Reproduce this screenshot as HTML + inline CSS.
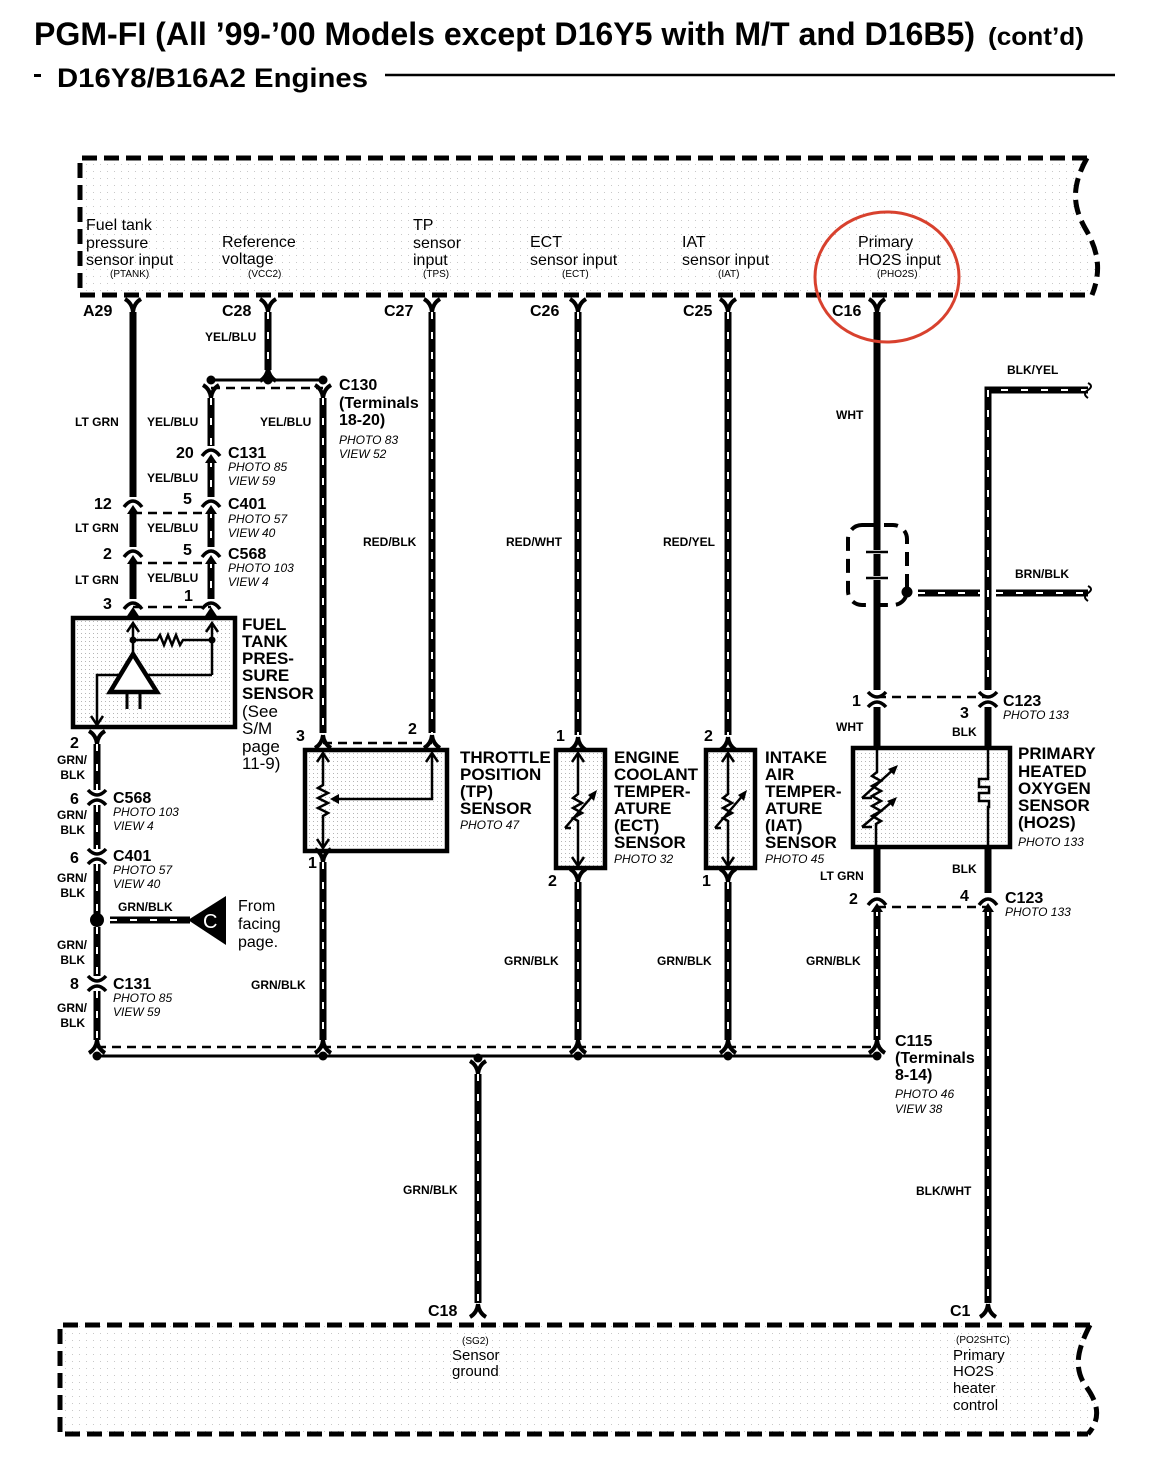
<!DOCTYPE html>
<html><head><meta charset="utf-8"><style>
html,body{margin:0;padding:0;background:#fff}
svg{display:block}
text{font-family:"Liberation Sans",Arial,sans-serif;fill:#000}
.t16{font-size:16px}
.t15{font-size:15px}
.sm{font-size:10px}
.b16{font-size:16px;font-weight:bold}
.b12{font-size:12px;font-weight:bold}
.i12{font-size:12px;font-style:italic}
.b17{font-size:17px;font-weight:bold}
.r17{font-size:17px}
.w{stroke:#000;stroke-width:7;fill:none}
.s{stroke:#fff;stroke-width:2;stroke-dasharray:7 13;fill:none}
.d{stroke:#000;stroke-width:2.5;stroke-dasharray:9 6;fill:none}
.box{stroke:#000;stroke-width:5;stroke-dasharray:15 7;fill:none}
.sb{stroke:#000;stroke-width:4.5;fill:url(#dots2)}
.ln{stroke:#000;stroke-width:2.5;fill:none}
</style></head><body>
<svg width="1156" height="1472" viewBox="0 0 1156 1472" xmlns="http://www.w3.org/2000/svg">
<defs>
<pattern id="dots" width="7" height="7" patternUnits="userSpaceOnUse"><rect x="2" y="3" width="1" height="1" fill="#c8c8c8"/></pattern>
<pattern id="dots2" width="4" height="4" patternUnits="userSpaceOnUse"><rect width="4" height="4" fill="#fff"/><rect x="1" y="1" width="1" height="1" fill="#b5b5b5"/></pattern>
<g id="fk"><path d="M-8,-9 Q-1,-5 0,4 M8,-9 Q1,-5 0,4" stroke="#000" stroke-width="4" fill="none"/></g>
<g id="ifk"><path d="M-8,9 Q-1,5 0,-4 M8,9 Q1,5 0,-4" stroke="#000" stroke-width="4" fill="none"/></g>
<g id="cn"><path d="M-9,6 Q0,-6 9,6" stroke="#000" stroke-width="3.5" fill="none"/><path d="M-6,13 L0,4 L6,13 Z" fill="#000"/></g>
<g id="cd"><path d="M-9,-7 Q0,3 9,-7" stroke="#000" stroke-width="3.5" fill="none"/><path d="M-9,8 Q0,-2 9,8" stroke="#000" stroke-width="3.5" fill="none"/></g>
</defs>

<!-- Title -->
<text x="34" y="45" font-size="32" font-weight="bold" textLength="941" lengthAdjust="spacingAndGlyphs">PGM-FI (All ’99-’00 Models except D16Y5 with M/T and D16B5)</text>
<text x="988" y="45" font-size="25" font-weight="bold" textLength="96" lengthAdjust="spacingAndGlyphs">(cont’d)</text>
<rect x="34" y="74" width="7" height="3" fill="#000"/>
<text x="57" y="87" font-size="27" font-weight="bold" textLength="311" lengthAdjust="spacingAndGlyphs">D16Y8/B16A2 Engines</text>
<line x1="385" y1="75" x2="1115" y2="75" stroke="#000" stroke-width="2.5"/>

<!-- Top ECM box -->
<path d="M1087,158 H80 V295 H1092 C1102,270 1098,250 1085,228 C1072,205 1072,185 1087,158 Z" fill="url(#dots)"/>
<path class="box" d="M1087,158 H80 V295 H1092"/>
<path class="box" d="M1087,158 C1072,185 1072,205 1085,228 C1098,250 1102,270 1092,295"/>

<text class="t16" x="86" y="230">Fuel tank</text>
<text class="t16" x="86" y="248">pressure</text>
<text class="t16" x="86" y="265">sensor input</text>
<text class="sm" x="110" y="277">(PTANK)</text>
<text class="t16" x="222" y="247">Reference</text>
<text class="t16" x="222" y="264">voltage</text>
<text class="sm" x="248" y="277">(VCC2)</text>
<text class="t16" x="413" y="230">TP</text>
<text class="t16" x="413" y="248">sensor</text>
<text class="t16" x="413" y="265">input</text>
<text class="sm" x="423" y="277">(TPS)</text>
<text class="t16" x="530" y="247">ECT</text>
<text class="t16" x="530" y="265">sensor input</text>
<text class="sm" x="562" y="277">(ECT)</text>
<text class="t16" x="682" y="247">IAT</text>
<text class="t16" x="682" y="265">sensor input</text>
<text class="sm" x="718" y="277">(IAT)</text>
<text class="t16" x="858" y="247">Primary</text>
<text class="t16" x="858" y="265">HO2S input</text>
<text class="sm" x="877" y="277">(PHO2S)</text>

<!-- connector labels -->
<text class="b16" x="83" y="316">A29</text>
<text class="b16" x="222" y="316">C28</text>
<text class="b16" x="384" y="316">C27</text>
<text class="b16" x="530" y="316">C26</text>
<text class="b16" x="683" y="316">C25</text>
<text class="b16" x="832" y="316">C16</text>

<!-- top forks -->
<use href="#fk" x="133" y="308"/>
<use href="#fk" x="268" y="308"/>
<use href="#fk" x="432" y="308"/>
<use href="#fk" x="578" y="308"/>
<use href="#fk" x="728" y="308"/>
<use href="#fk" x="877" y="308"/>

<!-- dashed connector lines -->
<line class="d" x1="211" y1="388" x2="323" y2="388"/>
<line class="d" x1="133" y1="513" x2="211" y2="513"/>
<line class="d" x1="133" y1="563" x2="211" y2="563"/>
<line class="d" x1="133" y1="607" x2="211" y2="607"/>
<line class="d" x1="323" y1="743" x2="432" y2="743"/>
<line class="d" x1="877" y1="697" x2="988" y2="697"/>
<line class="d" x1="877" y1="907" x2="988" y2="907"/>
<line class="d" x1="97" y1="1047" x2="877" y2="1047"/>
<line x1="97" y1="1056" x2="877" y2="1056" stroke="#000" stroke-width="3"/>

<!-- A29 LT GRN wire (solid) -->
<path class="w" d="M133,312 V497 M133,511 V547 M133,561 V599 M133,613 V618"/>
<use href="#cn" x="133" y="501"/><use href="#cn" x="133" y="551"/><use href="#cn" x="133" y="603"/>

<!-- C28 + C130 -->
<path class="w" d="M268,312 V370"/><path class="s" d="M268,312 V370"/>
<use href="#ifk" x="268" y="372"/>
<line x1="211" y1="380" x2="323" y2="380" stroke="#000" stroke-width="3"/>
<circle cx="211" cy="380" r="4.5"/><circle cx="268" cy="380" r="4.5"/><circle cx="323" cy="380" r="4.5"/>
<use href="#fk" x="211" y="394"/><use href="#fk" x="323" y="394"/>
<path class="w" d="M211,398 V446 M211,460 V497 M211,511 V547 M211,561 V599 M211,613 V618"/>
<path class="s" d="M211,398 V446 M211,460 V497 M211,511 V547 M211,561 V599"/>
<use href="#cn" x="211" y="450"/><use href="#cn" x="211" y="501"/><use href="#cn" x="211" y="551"/><use href="#cn" x="211" y="603"/>
<path class="w" d="M323,398 V733"/><path class="s" d="M323,398 V733"/>
<use href="#ifk" x="323" y="739"/>

<!-- C27 -->
<path class="w" d="M432,312 V733"/><path class="s" d="M432,312 V733"/>
<use href="#ifk" x="432" y="739"/>
<!-- C26 -->
<path class="w" d="M578,312 V735 M578,882 V1040"/><path class="s" d="M578,312 V735 M578,882 V1040"/>
<use href="#ifk" x="578" y="741"/><use href="#fk" x="578" y="878"/><use href="#ifk" x="578" y="1044"/>
<!-- C25 -->
<path class="w" d="M728,312 V735 M728,882 V1040"/><path class="s" d="M728,312 V735 M728,882 V1040"/>
<use href="#ifk" x="728" y="741"/><use href="#fk" x="728" y="878"/><use href="#ifk" x="728" y="1044"/>

<!-- C16 WHT -->
<path class="w" d="M877,312 V690 M877,707 V750 M877,846 V893"/>
<path class="w" d="M877,909 V1040"/><path class="s" d="M877,909 V1040"/>
<use href="#cd" x="877" y="699"/><use href="#cn" x="877" y="899"/><use href="#ifk" x="877" y="1044"/>

<!-- shield -->
<rect x="848" y="525" width="59" height="80" rx="14" fill="none" stroke="#000" stroke-width="4" stroke-dasharray="14 8"/>
<path d="M866,552 H888 M866,578 H888" stroke="#fff" stroke-width="4"/>
<path d="M866,552 H888 M866,578 H888" stroke="#000" stroke-width="2.5"/>
<circle cx="907" cy="592" r="5.5"/>
<path class="w" d="M918,593 H980 M996,593 H1088"/><path class="s" d="M918,593 H980 M996,593 H1088"/>
<path d="M1088,586 q6,3 0,7 q-6,4 0,8" stroke="#000" stroke-width="2" fill="none"/>

<!-- BLK/YEL -> BLK -> BLK/WHT -->
<path class="w" d="M1088,390 H988 V690 M988,707 V750 M988,846 V893"/>
<path class="s" d="M1088,390 H988 V690"/>
<path d="M1088,383 q6,3 0,7 q-6,4 0,8" stroke="#000" stroke-width="2" fill="none"/>
<path class="w" d="M988,909 V1303"/><path class="s" d="M988,909 V1303"/>
<use href="#cd" x="988" y="699"/><use href="#cn" x="988" y="899"/><use href="#ifk" x="988" y="1308"/>

<!-- FTP sensor -->
<rect class="sb" x="73" y="618" width="162" height="109"/>
<path class="ln" d="M133,624 V653 M212,624 V675 M133,640 H157 l3,-5 l4,10 l4,-10 l4,10 l4,-10 l4,10 l3,-5 H212 M97,723 V675 H212"/>
<path class="ln" d="M127,632 L133,623 L139,632 M206,632 L212,623 L218,632 M91,716 L97,725 L103,716"/>
<circle cx="133" cy="640" r="3.5"/><circle cx="212" cy="640" r="3.5"/>
<path d="M133,654 L110,692 L157,692 Z" fill="#fff" stroke="#000" stroke-width="4.5"/>
<path d="M127,692 V709 M140,692 V709" stroke="#000" stroke-width="3"/>
<text class="b17" x="242" y="630">FUEL</text>
<text class="b17" x="242" y="647">TANK</text>
<text class="b17" x="242" y="664">PRES-</text>
<text class="b17" x="242" y="681">SURE</text>
<text class="b17" x="242" y="699">SENSOR</text>
<text class="r17" x="242" y="717">(See</text>
<text class="r17" x="242" y="734">S/M</text>
<text class="r17" x="242" y="752">page</text>
<text class="r17" x="242" y="769">11-9)</text>

<!-- x97 ground wire -->
<use href="#fk" x="97" y="740"/>
<path class="w" d="M97,744 V790 M97,805 V849 M97,864 V914 M97,927 V976 M97,991 V1040"/>
<path class="s" d="M97,744 V790 M97,805 V849 M97,864 V914 M97,927 V976 M97,991 V1040"/>
<use href="#cd" x="97" y="797"/><use href="#cd" x="97" y="856"/><use href="#cd" x="97" y="983"/><use href="#ifk" x="97" y="1044"/>
<circle cx="97" cy="920" r="7"/>
<path class="w" d="M110,920 H190"/><path class="s" d="M110,920 H190"/>
<path d="M188,920 L226,896 L226,945 Z" fill="#000"/>
<text x="203" y="928" font-size="20" fill="#fff" style="fill:#fff">C</text>
<text class="t16" x="238" y="911">From</text>
<text class="t16" x="238" y="929">facing</text>
<text class="t16" x="238" y="947">page.</text>

<!-- TP sensor -->
<rect class="sb" x="305" y="750" width="142" height="101"/>
<path class="ln" d="M323,754 V785 l-5,3 l10,5 l-10,5 l10,5 l-10,5 l10,5 l-5,3 V847 M432,754 V799 H334"/>
<path class="ln" d="M317,762 L323,753 L329,762 M426,762 L432,753 L438,762 M317,839 L323,848 L329,839"/>
<path d="M330,799 L339,794 L339,804 Z" fill="#000"/>
<use href="#fk" x="323" y="858"/>
<path class="w" d="M323,862 V1040"/><path class="s" d="M323,862 V1040"/>
<use href="#ifk" x="323" y="1044"/>
<text class="b17" x="460" y="763">THROTTLE</text>
<text class="b17" x="460" y="780">POSITION</text>
<text class="b17" x="460" y="797">(TP)</text>
<text class="b17" x="460" y="814">SENSOR</text>
<text class="i12" x="460" y="829">PHOTO 47</text>

<!-- ECT sensor -->
<rect class="sb" x="556" y="750" width="49" height="118"/>
<path class="ln" d="M578,754 V794 l-5,4 l9,5 l-9,5 l9,5 l-9,5 l5,3 V865 M565,828 L594,794 M565,828 H571"/>
<path class="ln" d="M572,762 L578,753 L584,762 M572,857 L578,866 L584,857"/>
<path d="M597,790 L588,795 L594,801 Z" fill="#000"/>
<text class="b17" x="614" y="763">ENGINE</text>
<text class="b17" x="614" y="780">COOLANT</text>
<text class="b17" x="614" y="797">TEMPER-</text>
<text class="b17" x="614" y="814">ATURE</text>
<text class="b17" x="614" y="831">(ECT)</text>
<text class="b17" x="614" y="848">SENSOR</text>
<text class="i12" x="614" y="863">PHOTO 32</text>

<!-- IAT sensor -->
<rect class="sb" x="706" y="750" width="49" height="118"/>
<path class="ln" d="M728,754 V794 l-5,4 l9,5 l-9,5 l9,5 l-9,5 l5,3 V865 M715,828 L744,794 M715,828 H721"/>
<path class="ln" d="M722,762 L728,753 L734,762 M722,857 L728,866 L734,857"/>
<path d="M747,790 L738,795 L744,801 Z" fill="#000"/>
<text class="b17" x="765" y="763">INTAKE</text>
<text class="b17" x="765" y="780">AIR</text>
<text class="b17" x="765" y="797">TEMPER-</text>
<text class="b17" x="765" y="814">ATURE</text>
<text class="b17" x="765" y="831">(IAT)</text>
<text class="b17" x="765" y="848">SENSOR</text>
<text class="i12" x="765" y="863">PHOTO 45</text>

<!-- HO2S sensor -->
<rect class="sb" x="853" y="748" width="157" height="99"/>
<path class="ln" d="M877,750 V772 l-5,4 l9,5 l-9,5 l9,5 l-9,5 l9,5 l-9,5 l9,5 l-9,5 l9,5 l-5,3 V845" stroke-width="3"/>
<path class="ln" d="M862,798 L895,768 M862,798 H872 M862,827 L894,800 M862,827 H872" stroke-width="3"/>
<path d="M898,765 L888,769 L894,775 Z M897,797 L887,801 L893,807 Z" fill="#000"/>
<path class="ln" d="M988,750 V779 H979 V787 H989 V793 H979 V801 H989 V807 H988 V845" stroke-width="3"/>
<text class="b17" x="1018" y="759">PRIMARY</text>
<text class="b17" x="1018" y="777">HEATED</text>
<text class="b17" x="1018" y="794">OXYGEN</text>
<text class="b17" x="1018" y="811">SENSOR</text>
<text class="b17" x="1018" y="828">(HO2S)</text>
<text class="i12" x="1018" y="846">PHOTO 133</text>

<!-- bus dots -->
<circle cx="97" cy="1056" r="4.5"/><circle cx="323" cy="1056" r="4.5"/><circle cx="478" cy="1058" r="4.5"/>
<circle cx="578" cy="1056" r="4.5"/><circle cx="728" cy="1056" r="4.5"/><circle cx="877" cy="1056" r="4.5"/>
<use href="#fk" x="478" y="1070"/>
<path class="w" d="M478,1074 V1303"/><path class="s" d="M478,1074 V1303"/>
<use href="#ifk" x="478" y="1308"/>

<!-- Bottom ECM box -->
<path d="M1090,1325 H60 V1434 H1088 C1100,1420 1100,1405 1085,1385 C1072,1365 1080,1345 1090,1325 Z" fill="url(#dots)"/>
<path class="box" d="M1090,1325 H60 V1434 H1088"/>
<path class="box" d="M1090,1325 C1080,1345 1072,1365 1085,1385 C1100,1405 1100,1420 1088,1434"/>
<text class="sm" x="462" y="1344">(SG2)</text>
<text class="t15" x="452" y="1360">Sensor</text>
<text class="t15" x="452" y="1376">ground</text>
<text class="sm" x="956" y="1343">(PO2SHTC)</text>
<text class="t15" x="953" y="1360">Primary</text>
<text class="t15" x="953" y="1376">HO2S</text>
<text class="t15" x="953" y="1393">heater</text>
<text class="t15" x="953" y="1410">control</text>
<text class="b16" x="428" y="1316">C18</text>
<text class="b16" x="950" y="1316">C1</text>

<!-- red circle -->
<ellipse cx="887" cy="277" rx="72" ry="65" fill="none" stroke="#d8412e" stroke-width="3"/>

<!-- wire colour labels -->
<text class="b12" x="75" y="426">LT GRN</text>
<text class="b12" x="75" y="532">LT GRN</text>
<text class="b12" x="75" y="584">LT GRN</text>
<text class="b12" x="147" y="426">YEL/BLU</text>
<text class="b12" x="147" y="482">YEL/BLU</text>
<text class="b12" x="147" y="532">YEL/BLU</text>
<text class="b12" x="147" y="582">YEL/BLU</text>
<text class="b12" x="205" y="341">YEL/BLU</text>
<text class="b12" x="260" y="426">YEL/BLU</text>
<text class="b12" x="363" y="546">RED/BLK</text>
<text class="b12" x="506" y="546">RED/WHT</text>
<text class="b12" x="663" y="546">RED/YEL</text>
<text class="b12" x="836" y="419">WHT</text>
<text class="b12" x="1007" y="374">BLK/YEL</text>
<text class="b12" x="1015" y="578">BRN/BLK</text>
<text class="b12" x="836" y="731">WHT</text>
<text class="b12" x="952" y="736">BLK</text>
<text class="b12" x="952" y="873">BLK</text>
<text class="b12" x="820" y="880">LT GRN</text>
<text class="b12" x="806" y="965">GRN/BLK</text>
<text class="b12" x="657" y="965">GRN/BLK</text>
<text class="b12" x="504" y="965">GRN/BLK</text>
<text class="b12" x="251" y="989">GRN/BLK</text>
<text class="b12" x="403" y="1194">GRN/BLK</text>
<text class="b12" x="916" y="1195">BLK/WHT</text>
<text class="b12" x="118" y="911">GRN/BLK</text>
<g text-anchor="end">
<text class="b12" x="87" y="764">GRN/</text><text class="b12" x="85" y="779">BLK</text>
<text class="b12" x="87" y="819">GRN/</text><text class="b12" x="85" y="834">BLK</text>
<text class="b12" x="87" y="882">GRN/</text><text class="b12" x="85" y="897">BLK</text>
<text class="b12" x="87" y="949">GRN/</text><text class="b12" x="85" y="964">BLK</text>
<text class="b12" x="87" y="1012">GRN/</text><text class="b12" x="85" y="1027">BLK</text>
</g>

<!-- pin numbers -->
<text class="b16" x="176" y="458">20</text>
<text class="b16" x="183" y="504">5</text>
<text class="b16" x="183" y="555">5</text>
<text class="b16" x="184" y="601">1</text>
<text class="b16" x="94" y="509">12</text>
<text class="b16" x="103" y="559">2</text>
<text class="b16" x="103" y="609">3</text>
<text class="b16" x="70" y="748">2</text>
<text class="b16" x="70" y="804">6</text>
<text class="b16" x="70" y="863">6</text>
<text class="b16" x="70" y="989">8</text>
<text class="b16" x="296" y="741">3</text>
<text class="b16" x="408" y="734">2</text>
<text class="b16" x="308" y="868">1</text>
<text class="b16" x="556" y="741">1</text>
<text class="b16" x="548" y="886">2</text>
<text class="b16" x="704" y="741">2</text>
<text class="b16" x="702" y="886">1</text>
<text class="b16" x="852" y="706">1</text>
<text class="b16" x="960" y="718">3</text>
<text class="b16" x="849" y="904">2</text>
<text class="b16" x="960" y="901">4</text>

<!-- connector names -->
<text class="b16" x="228" y="458">C131</text>
<text class="i12" x="228" y="471">PHOTO 85</text>
<text class="i12" x="228" y="485">VIEW 59</text>
<text class="b16" x="228" y="509">C401</text>
<text class="i12" x="228" y="523">PHOTO 57</text>
<text class="i12" x="228" y="537">VIEW 40</text>
<text class="b16" x="228" y="559">C568</text>
<text class="i12" x="228" y="572">PHOTO 103</text>
<text class="i12" x="228" y="586">VIEW 4</text>
<text class="b16" x="339" y="390">C130</text>
<text class="b16" x="339" y="408">(Terminals</text>
<text class="b16" x="339" y="425">18-20)</text>
<text class="i12" x="339" y="444">PHOTO 83</text>
<text class="i12" x="339" y="458">VIEW 52</text>
<text class="b16" x="113" y="803">C568</text>
<text class="i12" x="113" y="816">PHOTO 103</text>
<text class="i12" x="113" y="830">VIEW 4</text>
<text class="b16" x="113" y="861">C401</text>
<text class="i12" x="113" y="874">PHOTO 57</text>
<text class="i12" x="113" y="888">VIEW 40</text>
<text class="b16" x="113" y="989">C131</text>
<text class="i12" x="113" y="1002">PHOTO 85</text>
<text class="i12" x="113" y="1016">VIEW 59</text>
<text class="b16" x="1003" y="706">C123</text>
<text class="i12" x="1003" y="719">PHOTO 133</text>
<text class="b16" x="1005" y="903">C123</text>
<text class="i12" x="1005" y="916">PHOTO 133</text>
<text class="b16" x="895" y="1046">C115</text>
<text class="b16" x="895" y="1063">(Terminals</text>
<text class="b16" x="895" y="1080">8-14)</text>
<text class="i12" x="895" y="1098">PHOTO 46</text>
<text class="i12" x="895" y="1113">VIEW 38</text>
</svg>
</body></html>
